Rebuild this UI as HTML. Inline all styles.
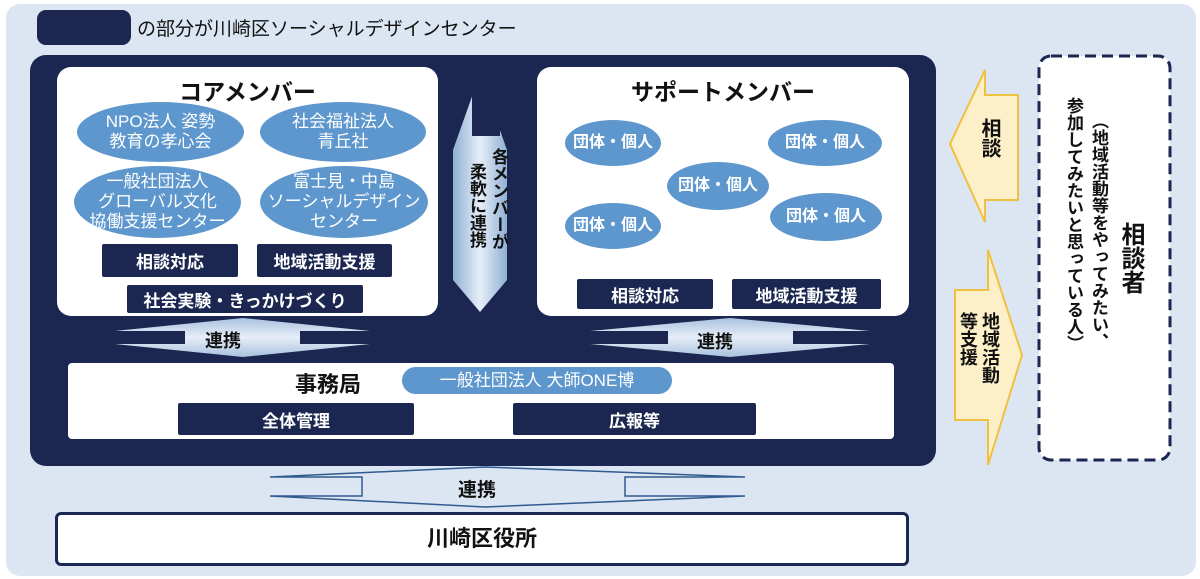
<!DOCTYPE html>
<html><head><meta charset="utf-8"><style>
body{margin:0;width:1200px;height:579px;background:#fff;position:relative;overflow:hidden;font-family:"Liberation Sans","Noto Sans CJK JP",sans-serif;}
div{position:absolute;box-sizing:border-box;}
.d{background:#1b2750;color:#fff;font-weight:bold;font-size:17px;display:flex;align-items:center;justify-content:center;border-radius:2px;}
.e{background:#5e97cd;color:#fff;font-size:17px;line-height:20px;display:flex;align-items:center;justify-content:center;text-align:center;border-radius:50%;}
.g{font-weight:bold;font-size:16px;}
.w{background:#fff;border-radius:14px;}
.v{writing-mode:vertical-rl;font-weight:bold;color:#111;}
</style></head><body>
<div style="left:6px;top:4px;width:1190px;height:572px;background:#dce6f2;border-radius:14px;"></div>
<div style="left:37px;top:10px;width:94px;height:35px;background:#1b2750;border-radius:9px;"></div>
<div style="left:137px;top:14px;font-size:19px;color:#111;">の部分が川崎区ソーシャルデザインセンター</div>
<div style="left:30px;top:55px;width:906px;height:411px;background:#1b2750;border-radius:16px;"></div>

<div class="w" style="left:57px;top:67px;width:381px;height:249px;"></div>
<div style="left:57px;top:73px;width:381px;text-align:center;font-size:23px;font-weight:bold;color:#111;">コアメンバー</div>
<div class="e" style="left:77px;top:102px;width:167px;height:60px;">NPO法人 姿勢<br>教育の孝心会</div>
<div class="e" style="left:260px;top:102px;width:166px;height:60px;">社会福祉法人<br>青丘社</div>
<div class="e" style="left:74px;top:166px;width:167px;height:72px;">一般社団法人<br>グローバル文化<br>協働支援センター</div>
<div class="e" style="left:260px;top:166px;width:168px;height:72px;">富士見・中島<br>ソーシャルデザイン<br>センター</div>
<div class="d" style="left:102px;top:244px;width:136px;height:33px;">相談対応</div>
<div class="d" style="left:257px;top:244px;width:135px;height:33px;">地域活動支援</div>
<div class="d" style="left:127px;top:285px;width:236px;height:28px;">社会実験・きっかけづくり</div>

<svg style="position:absolute;left:0;top:0" width="1200" height="579">
<defs><linearGradient id="lg" x1="0" x2="1"><stop offset="0" stop-color="#8fb0d4"/><stop offset=".5" stop-color="#e6eef8"/><stop offset="1" stop-color="#8fb0d4"/></linearGradient>
<linearGradient id="lv" x1="0" x2="0" y1="0" y2="1"><stop offset="0" stop-color="#a9c2de"/><stop offset=".5" stop-color="#e6eef8"/><stop offset="1" stop-color="#a9c2de"/></linearGradient></defs>
<polygon points="480,74 507,150 507,280 480,312 453,280 453,150" fill="url(#lg)"/>
<rect x="472" y="70" width="28" height="66" fill="#1b2750"/>
<polygon points="243,318 370,331 300,331 300,344 370,344 243,357 115,344 185,344 185,331 115,331" fill="url(#lv)"/>
<polygon points="730,318 870,331 793,331 793,344 870,344 730,357 590,344 668,344 668,331 590,331" fill="url(#lv)"/>
<polygon points="485,467 745,477 625,477 625,496 745,496 485,507 270,496 362,496 362,477 270,477" fill="#dce6f2" stroke="#2f5b8f" stroke-width="1.5"/>
<polygon points="950,144 985,70 985,95 1018,95 1018,200 985,200 985,222" fill="#fdefc8" stroke="#f0c040" stroke-width="2"/>
<polygon points="1022,355 988,250 988,290 955,290 955,420 988,420 988,465" fill="#fdefc8" stroke="#f0c040" stroke-width="2"/>
<rect x="1039" y="56" width="131" height="404" rx="12" fill="#fff" stroke="#1b2750" stroke-width="3" stroke-dasharray="11,6"/>
</svg>
<div class="v" style="left:488px;top:148px;font-size:17px;line-height:20px;">各メンバーが</div>
<div class="v" style="left:466px;top:163px;font-size:17px;line-height:20px;">柔軟に連携</div>

<div class="w" style="left:537px;top:67px;width:372px;height:249px;"></div>
<div style="left:537px;top:73px;width:372px;text-align:center;font-size:23px;font-weight:bold;color:#111;">サポートメンバー</div>
<div class="e g" style="left:565px;top:120px;width:96px;height:46px;">団体・個人</div>
<div class="e g" style="left:768px;top:120px;width:114px;height:46px;">団体・個人</div>
<div class="e g" style="left:667px;top:162px;width:102px;height:48px;">団体・個人</div>
<div class="e g" style="left:565px;top:203px;width:96px;height:46px;">団体・個人</div>
<div class="e g" style="left:770px;top:193px;width:112px;height:48px;">団体・個人</div>
<div class="d" style="left:577px;top:279px;width:136px;height:30px;">相談対応</div>
<div class="d" style="left:732px;top:279px;width:149px;height:30px;">地域活動支援</div>

<div style="left:205px;top:327px;font-size:18px;font-weight:bold;color:#111;">連携</div>
<div style="left:697px;top:328px;font-size:18px;font-weight:bold;color:#111;">連携</div>

<div style="left:68px;top:363px;width:826px;height:76px;background:#fff;border-radius:4px;"></div>
<div style="left:295px;top:367px;font-size:22px;font-weight:bold;color:#111;">事務局</div>
<div style="left:402px;top:367px;width:270px;height:27px;background:#5e97cd;color:#fff;border-radius:14px;font-size:17px;text-align:center;line-height:27px;">一般社団法人 大師ONE博</div>
<div class="d" style="left:178px;top:403px;width:236px;height:32px;">全体管理</div>
<div class="d" style="left:513px;top:403px;width:243px;height:32px;">広報等</div>

<div style="left:458px;top:475px;font-size:19px;font-weight:bold;color:#111;">連携</div>
<div style="left:55px;top:512px;width:854px;height:54px;background:#fff;border:3px solid #1b2750;border-radius:6px;font-size:22px;font-weight:bold;color:#111;text-align:center;line-height:48px;">川崎区役所</div>

<div class="v" style="left:975px;top:118px;font-size:20px;">相談</div>
<div class="v" style="left:957px;top:312px;font-size:18px;line-height:22px;">地域活動<br>等支援</div>
<div class="v" style="left:1060px;top:97px;font-size:17px;line-height:26px;height:320px;">参加してみたいと思っている人）</div>
<div class="v" style="left:1085px;top:112px;font-size:17px;line-height:26px;height:320px;">（地域活動等をやってみたい、</div>
<div class="v" style="left:1113px;top:222px;font-size:24px;">相談者</div>
</body></html>
